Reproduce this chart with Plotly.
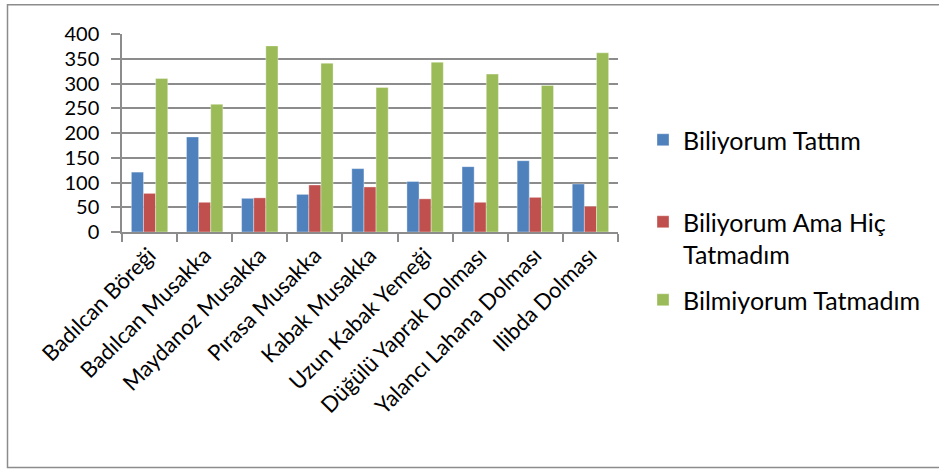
import plotly.graph_objects as go

categories = [
    "Badılcan Böreği", "Badılcan Musakka", "Maydanoz Musakka", "Pırasa Musakka",
    "Kabak Musakka", "Uzun Kabak Yemeği", "Düğülü Yaprak Dolması",
    "Yalancı Lahana Dolması", "Ilibda Dolması",
]
biliyorum_tattim = [121, 192, 68, 76, 128, 102, 132, 144, 97]
biliyorum_tatmadim = [78, 60, 69, 95, 91, 67, 60, 70, 52]
bilmiyorum_tatmadim = [310, 258, 376, 341, 292, 343, 319, 296, 362]
y_ticks = [0, 50, 100, 150, 200, 250, 300, 350, 400]

series = [
    ("Biliyorum Tattım", biliyorum_tattim, "#4F81BD"),
    ("Biliyorum Ama Hiç<br>Tatmadım", biliyorum_tatmadim, "#C0504D"),
    ("Bilmiyorum Tatmadım", bilmiyorum_tatmadim, "#9BBB59"),
]

FONT = "Lato"
W, H = 939, 469
ML, MR, MT, MB = 122, 321, 34, 237
PW, PH = W - ML - MR, H - MT - MB
PLOT_BOTTOM = H - MB


def py(px):
    """Pixel row -> paper y."""
    return (PLOT_BOTTOM - px) / PH


def pxp(px):
    """Pixel column -> paper x."""
    return (px - ML) / PW


legend_rows = [140, 238, 300]
legend_names = ["legend", "legend2", "legend3"]

fig = go.Figure()
for (name, vals, color), lg in zip(series, legend_names):
    fig.add_trace(go.Bar(
        x=categories, y=vals, name=name, legend=lg,
        marker=dict(color=color, line=dict(color="rgba(255,255,255,0.6)", width=0.6)),
    ))

legend_style = dict(
    x=pxp(643), xanchor="left", yanchor="middle", valign="top",
    font=dict(family=FONT, size=25, color="black"),
    bgcolor="rgba(0,0,0,0)", maxheight=300,
)
legends = {
    lg: dict(legend_style, y=py(row))
    for lg, row in zip(legend_names, legend_rows)
}

grid = "#8c8c8c"
fig.update_layout(
    width=W, height=H,
    margin=dict(l=ML, r=MR, t=MT, b=MB),
    paper_bgcolor="white", plot_bgcolor="white",
    barmode="group", bargap=0.34, bargroupgap=0,
    font=dict(family=FONT, size=22, color="black"),
    showlegend=True,
    **legends,
    xaxis=dict(
        type="category", tickangle=-45, tickson="boundaries",
        ticks="outside", ticklen=8, tickcolor=grid, tickwidth=1.5,
        showline=True, linecolor=grid, linewidth=1.5,
        showgrid=False, automargin=False,
        tickfont=dict(family=FONT, size=22, color="black"),
    ),
    yaxis=dict(
        range=[0, 400], tickvals=y_ticks,
        ticks="outside", ticklen=9, tickcolor=grid, tickwidth=1.5,
        ticklabelstandoff=8,
        showline=True, linecolor=grid, linewidth=1.5,
        showgrid=True, gridcolor=grid, gridwidth=1.5,
        zeroline=False, automargin=False,
        tickfont=dict(family=FONT, size=20, color="black"),
    ),
    shapes=[dict(
        type="rect", xref="paper", yref="paper",
        x0=pxp(7.5), x1=pxp(1000),
        y0=py(467.5), y1=py(4.7),
        line=dict(color="#8c8c8c", width=1.5), fillcolor="rgba(0,0,0,0)",
        layer="below",
    )],
)

fig.write_html("out.html")
